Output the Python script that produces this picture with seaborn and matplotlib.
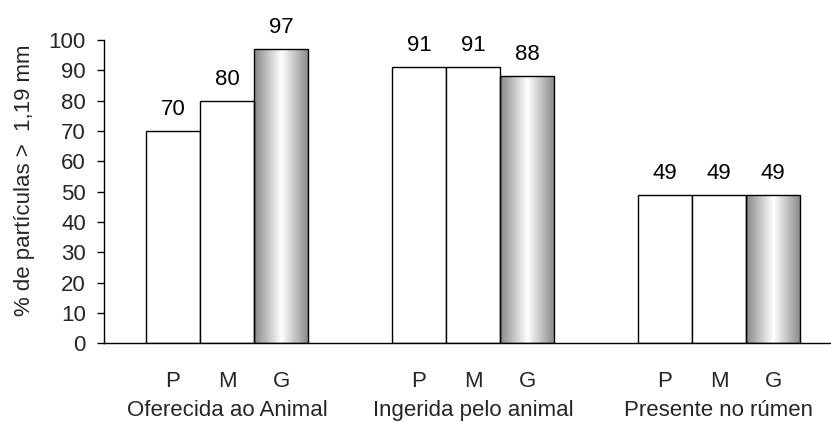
import numpy as np
import pandas as pd
import matplotlib
matplotlib.use("Agg")
import matplotlib.pyplot as plt
import seaborn as sns

groups = ["Oferecida ao Animal", "Ingerida pelo animal", "Presente no rúmen"]
sizes = ["P", "M", "G"]
values_P = [70, 91, 49]
values_M = [80, 91, 49]
values_G = [97, 88, 49]
yticks = list(range(0, 101, 10))

rows = []
for i, g in enumerate(groups):
    for s, vals in zip(sizes, [values_P, values_M, values_G]):
        rows.append({"grupo": g, "tamanho": s, "valor": vals[i]})
df = pd.DataFrame(rows)

sns.set_style("white")
plt.rcParams['font.family'] = ['Liberation Sans', 'DejaVu Sans']
FS = 16

fig = plt.figure(figsize=(8.31, 4.22), dpi=100)
ax = fig.add_axes([104 / 831, 1 - 343.3 / 422, 738 / 831, 303.3 / 422])

sns.barplot(data=df, x="grupo", y="valor", hue="tamanho", order=groups,
            hue_order=sizes, palette=["white", "white", "white"],
            width=0.66, edgecolor="black", linewidth=1.0, legend=False,
            errorbar=None, ax=ax, zorder=2)

# gradient fill for G bars
t = np.linspace(0, 1, 256)
prof = 0.53 + 0.47 * (1 - np.abs(t - 0.5) / 0.5)
grad = np.tile(prof, (2, 1))
for bar in ax.containers[2]:
    x0, y0 = bar.get_x(), bar.get_y()
    w, h = bar.get_width(), bar.get_height()
    bar.set_facecolor("none")
    im = ax.imshow(grad, cmap="gray", vmin=0, vmax=1, aspect="auto",
                   extent=[x0, x0 + w, y0, y0 + h], zorder=1.5,
                   interpolation="bilinear")
    im.set_clip_path(bar)

# value labels
for cont in ax.containers:
    for bar in cont:
        v = bar.get_height()
        ax.annotate(f"{v:.0f}", (bar.get_x() + bar.get_width() / 2, v),
                    xytext=(0, 11.5), textcoords="offset points",
                    ha="center", va="baseline", fontsize=FS, color="black")

ax.set_xlim(-0.5, 2.5)
ax.set_ylim(0, 100)
ax.set_yticks(yticks)
ax.set_yticklabels([str(v) for v in yticks], fontsize=FS)

# P/M/G tick labels under each bar
pos = []
labs = []
for cont, s in zip(ax.containers, sizes):
    for bar in cont:
        pos.append(bar.get_x() + bar.get_width() / 2)
        labs.append(s)
order = np.argsort(pos)
ax.set_xticks([pos[i] for i in order])
ax.set_xticklabels([labs[i] for i in order], fontsize=FS)
ax.tick_params(axis="x", which="major", length=0, pad=20)
ax.set_xticks([-0.5, 0.5, 1.5, 2.5], minor=True)
ax.tick_params(axis="x", which="minor", length=5, width=1, direction="out", color="black")
ax.tick_params(axis="y", length=5, width=1, direction="out", color="black", pad=8, left=True)
ax.set_xlabel("")
ax.set_ylabel("")

for i, g in enumerate(groups):
    ax.text(i, -0.2397, g, transform=ax.get_xaxis_transform(), ha="center",
            va="baseline", fontsize=FS)

fig.text(25 / 831, 1 - 180 / 422, "% de partículas >  1,19 mm", rotation=90,
         ha="center", va="center", fontsize=FS)

for sp in ["top", "right"]:
    ax.spines[sp].set_visible(False)
for sp in ["left", "bottom"]:
    ax.spines[sp].set_color("black")
    ax.spines[sp].set_linewidth(1.0)

fig.savefig("out.png", dpi=100)
